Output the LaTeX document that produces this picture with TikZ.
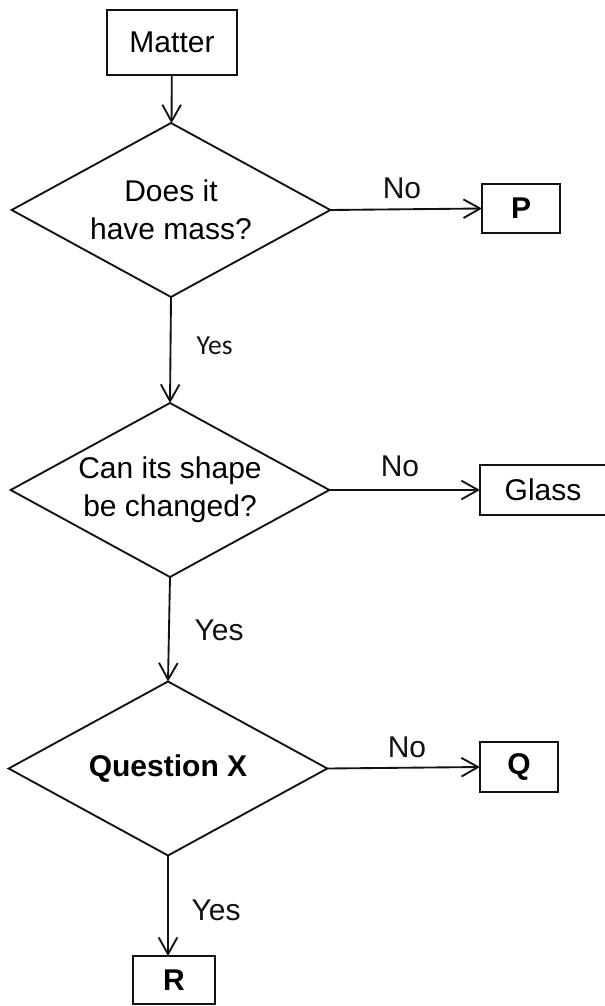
\documentclass[tikz,border=0pt]{standalone}
\usepackage{fontspec}
\setmainfont{Liberation Sans}
\newfontfamily\yesfont{Carlito}
\usetikzlibrary{arrows.meta,shapes.geometric}
\definecolor{ink}{RGB}{18,18,18}
\newcommand\chartsize{\fontsize{22.5}{28.5}\selectfont}

\begin{document}
\begin{tikzpicture}[
  x=0.75pt,
  y=-0.75pt,
  font=\chartsize,
  line join=miter,
  box/.style={
    draw=ink,
    line width=1.4pt,
    inner sep=0pt,
    outer sep=0pt,
    minimum height=37pt
  },
  result/.style={
    box,
    minimum width=58.5pt,
    font=\chartsize\bfseries
  },
  question/.style={
    diamond,
    aspect=1.82,
    draw=ink,
    line width=1.4pt,
    minimum width=239pt,
    minimum height=130.5pt,
    inner sep=0pt,
    outer sep=0pt,
    align=center
  },
  label/.style={
    text=ink
  },
  arrow/.style={
    -{Straight Barb[length=12.5pt,width=14pt]},
    draw=ink,
    line width=1.4pt
  }
]
\useasboundingbox (0,0) rectangle (604,1006);

% ---------------------------------------------------------------------------
% Start and first question.
% ---------------------------------------------------------------------------
\node[box,minimum width=97.5pt,minimum height=48.75pt] (matter)
  at (172,42.5) {Matter};

\node[question] (mass) at (171,210) {Does it\\have mass?};
\node[result] (p) at (521,208.5) {P};

\draw[arrow] (matter) -- (mass);
\draw[arrow] (mass.east) -- (p.west);
\node[label] (nomass) at (402,188) {No};

% ---------------------------------------------------------------------------
% Second question.
% ---------------------------------------------------------------------------
\node[question] (shape) at (170,490) {Can its shape\\be changed?};
\node[box,minimum width=94.5pt] (glass) at (543,490) {Glass};

\draw[arrow] (mass.south) -- (shape.north);
\node[label,font=\yesfont\fontsize{20.7}{24}\selectfont,anchor=west]
  (yesmass) at (192,346) {Yes};
\draw[arrow] (shape.east) -- (glass.west);
\node[label] (noshape) at (400,466) {No};

% ---------------------------------------------------------------------------
% Question X.
% ---------------------------------------------------------------------------
\node[question,font=\chartsize\bfseries] (qx) at (168,768.5) {Question X};
\node[result] (q) at (519,767) {Q};
\node[result,minimum width=61.5pt,minimum height=36pt] (r) at (174,980) {R};

\draw[arrow] (shape.south) -- (qx.north);
\node[label,anchor=west] (yesshape) at (190,630) {Yes};
\draw[arrow] (qx.east) -- (q.west);
\node[label] (noqx) at (407,747) {No};
\draw[arrow] (qx.south) -- (qx.south |- r.north);
\node[label,anchor=west] (yesqx) at (187,910) {Yes};

\end{tikzpicture}
\end{document}
